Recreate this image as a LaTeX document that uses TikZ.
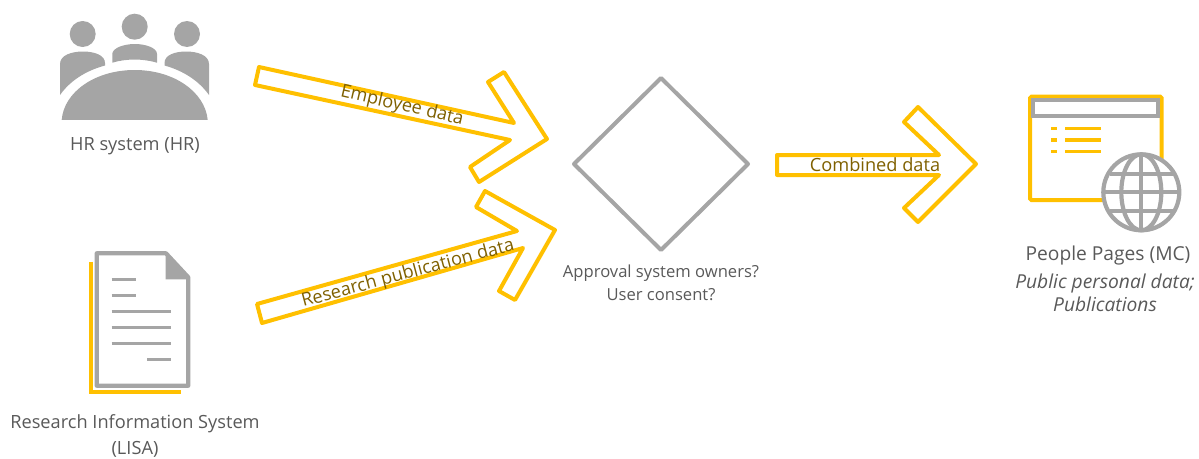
\documentclass[tikz,border=0pt]{standalone}
\usepackage{fontspec}
\setmainfont{Open Sans}
\definecolor{ygold}{HTML}{FFC000}
\definecolor{igray}{HTML}{A5A5A5}
\definecolor{tgray}{HTML}{595959}
\definecolor{olive}{HTML}{7F6000}
\tikzset{
  blockarrow/.style={draw=ygold,line width=4pt,line join=round},
  caption/.style={text=tgray,font=\fontsize{18.2}{26}\selectfont,inner sep=0pt,align=center},
  flowlabel/.style={text=olive,font=\fontsize{18.2}{22}\selectfont,inner sep=0pt},
  iconfill/.style={fill=igray,draw=none},
  iconline/.style={draw=igray,line width=4.2pt},
  goldline/.style={draw=ygold,line width=4pt}
}
\begin{document}
\begin{tikzpicture}[x=1pt,y=-1pt]
\useasboundingbox (0,0) rectangle (1199,458);
% HR icon
\fill[iconfill] (82.7,34) circle (13);
\fill[iconfill] (134.7,26.7) circle (13);
\fill[iconfill] (187,34) circle (13);
\fill[iconfill] (61.7,119.8) .. controls (64,92) and (95,70) .. (134.7,70) .. controls (174,70) and (205,92) .. (207.7,119.8) -- cycle;
\fill[iconfill] (60,95) -- (60,64) .. controls (60,55) and (72,51.5) .. (83,51.5) .. controls (94,51.5) and (105,55) .. (105,63) -- (105,65.5) .. controls (85,71) and (70,81) .. (60,95) -- cycle;
\fill[iconfill] (209,95) -- (209,64) .. controls (209,55) and (197,51.5) .. (186,51.5) .. controls (175,51.5) and (164.5,55) .. (164.5,63) -- (164.5,65.5) .. controls (184,71) and (199,81) .. (209,95) -- cycle;
\fill[iconfill] (112.3,62.7) -- (112.3,54) .. controls (112.3,48) and (124,44) .. (134.7,44) .. controls (146,44) and (157,48) .. (157,54) -- (157,62.7) .. controls (143,58.5) and (126,58.5) .. (112.3,62.7) -- cycle;
\node[caption] (hr) at (135,146) {HR system (HR)};
% document icon
\draw[goldline,line cap=butt] (90.7,261.7) -- (90.7,392.3) -- (180.7,392.3);
\draw[iconline,line join=round,fill=white] (96.7,253.3) -- (166,253.3) -- (188.3,277.3) -- (188.3,385.7) -- (96.7,385.7) -- cycle;
\fill[iconfill] (165.5,254) -- (165.5,279.3) -- (188.5,279.3) -- cycle;
\draw[iconline,line width=3pt] (111.7,279) -- (136,279) (111.7,295) -- (136,295)
  (111.7,311.3) -- (171.3,311.3) (111.7,327.3) -- (171.3,327.3) (111.7,343.3) -- (171.3,343.3)
  (147.3,359.3) -- (171.3,359.3);
\node[caption] (lisa) at (135,436) {Research Information System\\(LISA)};
% arrows
\draw[blockarrow] (259,67) -- (514,123) -- (488,82) -- (504,72) -- (547,139) -- (479,182) -- (470,167) -- (510,140) -- (255,85) -- cycle;
\node[flowlabel,rotate=-13] (emp) at (402,106) {Employee data};
\draw[blockarrow] (257,304) -- (517,231) -- (476,207) -- (485,191) -- (555,230) -- (515,300) -- (499,291) -- (523,248) -- (262,323) -- cycle;
\node[flowlabel,rotate=15] (res) at (408,274) {Research publication data};
\draw[blockarrow] (777,155) -- (939,155) -- (904,122) -- (918,107) -- (976,164) -- (918,222) -- (904,208) -- (939,175) -- (777,175) -- cycle;
\node[flowlabel] (comb) at (875,165) {Combined data};
% diamond
\draw[draw=igray,line width=4pt,line join=round] (574,164) -- (661,78) -- (748,164) -- (661,250) -- cycle;
\node[caption,font=\fontsize{16.6}{23}\selectfont] (appr) at (661,283) {Approval system owners?\\User consent?};
% window icon
\draw[goldline,rounded corners=1.5pt] (1030,96.7) rectangle (1161.7,200);
\draw[iconline,line width=4pt] (1033.3,100.3) rectangle (1157.7,116);
\draw[goldline,line width=3.6pt] (1051,128.3) -- (1057.3,128.3) (1065,128.3) -- (1100.7,128.3)
  (1051,140) -- (1057.3,140) (1065,140) -- (1100.7,140)
  (1051,151.3) -- (1057.3,151.3) (1065,151.3) -- (1100.7,151.3);
\draw[iconline,fill=white] (1141.3,192.3) circle (38);
\draw[iconline] (1141.3,154.3) -- (1141.3,230.3) (1103.3,192.3) -- (1179.3,192.3)
  (1110,174) -- (1172.6,174) (1110,210.6) -- (1172.6,210.6);
\draw[iconline] (1141.3,192.3) ellipse (20 and 38);
\node[caption,font=\fontsize{19.2}{26}\selectfont] (pp) at (1108,256) {People Pages (MC)};
\node[caption,font=\fontsize{19.2}{23}\selectfont\itshape] (ppsub) at (1105,293) {Public personal data;\\Publications};
\end{tikzpicture}
\end{document}
